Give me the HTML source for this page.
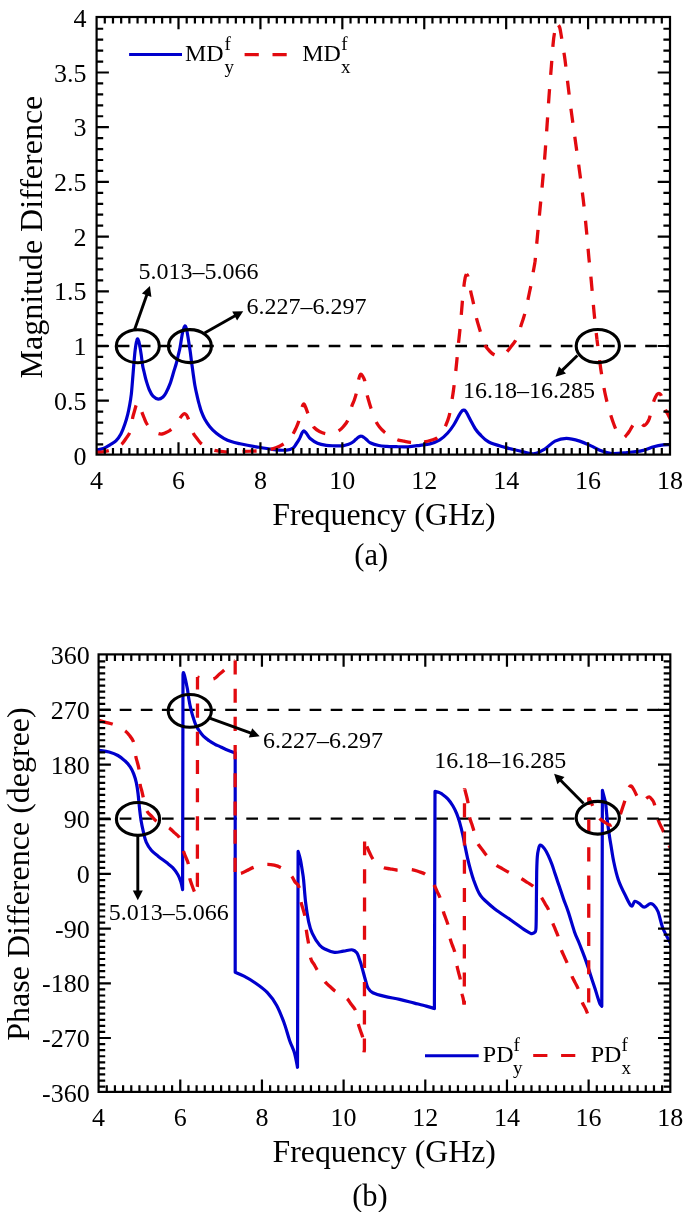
<!DOCTYPE html>
<html><head><meta charset="utf-8"><style>html,body{margin:0;padding:0;background:#fff;overflow:hidden}svg{display:block;filter:blur(0.5px)}</style></head>
<body>
<svg width="685" height="1212" viewBox="0 0 685 1212" font-family="Liberation Serif, serif" style="font-family:'Liberation Serif',serif"><rect width="685" height="1212" fill="#fff"/><line x1="96.6" y1="346.0" x2="670.0" y2="346.0" stroke="#000" stroke-width="2.3" stroke-dasharray="11.7 9.4"/><line x1="98.6" y1="709.8" x2="670.3" y2="709.8" stroke="#000" stroke-width="2.3" stroke-dasharray="11.7 9.4"/><line x1="98.6" y1="818.6" x2="670.3" y2="818.6" stroke="#000" stroke-width="2.3" stroke-dasharray="11.7 9.4"/><defs><clipPath id="ca"><rect x="96.6" y="17.0" width="573.4" height="437.6"/></clipPath><clipPath id="cb"><rect x="98.6" y="654.4" width="571.6999999999999" height="437.5000000000001"/></clipPath></defs><g clip-path="url(#ca)"><path d="M96.6,450.0 C97.7,449.8 101.1,449.5 103.3,448.6 C105.5,447.8 107.9,446.2 110.0,444.9 C112.1,443.6 114.1,442.7 115.9,440.9 C117.7,439.1 119.4,436.8 120.9,434.0 C122.4,431.2 123.8,427.3 124.9,424.0 C126.1,420.7 127.0,417.5 127.8,414.2 C128.6,410.9 129.2,407.6 129.8,404.3 C130.4,401.0 130.8,398.5 131.3,394.4 C131.8,390.3 132.2,384.4 132.6,379.5 C133.0,374.6 133.4,369.6 133.8,364.7 C134.2,359.8 134.7,353.8 135.2,349.8 C135.7,345.8 136.2,342.7 136.7,340.9 C137.1,339.1 137.4,338.5 137.9,339.2 C138.4,339.9 139.1,342.4 139.6,345.0 C140.1,347.6 140.7,351.3 141.2,354.8 C141.7,358.3 142.2,363.1 142.7,366.0 C143.2,368.9 143.6,369.9 144.2,372.5 C144.8,375.1 145.5,378.4 146.4,381.3 C147.3,384.2 148.3,387.5 149.4,390.0 C150.5,392.5 151.5,394.7 153.0,396.2 C154.5,397.7 156.5,399.1 158.2,399.2 C159.9,399.3 161.6,398.2 163.0,397.0 C164.4,395.8 165.3,394.0 166.5,391.8 C167.7,389.6 168.8,387.1 170.0,383.9 C171.2,380.7 172.5,375.9 173.5,372.5 C174.5,369.1 175.4,366.7 176.2,363.8 C177.0,360.9 177.7,357.7 178.3,355.0 C178.9,352.3 179.3,351.5 180.0,347.8 C180.7,344.1 181.7,336.6 182.5,333.0 C183.3,329.4 184.2,326.1 185.0,325.9 C185.8,325.7 186.3,328.0 187.1,332.0 C187.9,336.0 189.2,344.9 190.0,350.0 C190.8,355.1 191.0,358.3 191.6,362.4 C192.2,366.5 192.8,370.9 193.3,374.8 C193.9,378.7 194.3,382.1 194.9,385.5 C195.5,388.9 196.3,392.4 197.0,395.4 C197.7,398.4 198.2,400.9 199.0,403.6 C199.8,406.4 200.5,409.3 201.5,411.9 C202.5,414.5 203.4,416.8 204.8,419.3 C206.2,421.8 207.9,424.4 209.8,426.7 C211.7,429.0 214.1,431.4 216.4,433.3 C218.7,435.2 221.3,436.9 223.8,438.3 C226.3,439.7 228.5,440.7 231.2,441.6 C233.9,442.5 235.9,442.9 240.1,443.8 C244.3,444.7 250.8,445.9 256.2,446.8 C261.6,447.7 267.2,448.7 272.3,449.3 C277.4,449.9 283.2,450.4 286.7,450.2 C290.2,450.0 291.5,449.1 293.1,448.0 C294.7,446.9 295.4,445.1 296.5,443.5 C297.6,441.9 298.7,440.1 299.6,438.4 C300.5,436.6 301.3,434.3 302.0,433.0 C302.7,431.7 303.1,430.7 303.8,430.8 C304.6,430.9 305.4,432.2 306.5,433.5 C307.6,434.8 308.7,437.2 310.5,438.8 C312.3,440.4 314.9,442.1 317.5,443.2 C320.1,444.3 323.6,444.9 326.3,445.3 C329.1,445.7 331.2,445.7 334.0,445.8 C336.8,445.9 340.6,446.0 342.9,445.8 C345.2,445.6 346.4,445.1 348.0,444.5 C349.6,443.9 351.3,443.2 352.6,442.3 C353.9,441.4 355.0,440.2 356.0,439.3 C357.0,438.4 357.6,437.7 358.5,437.2 C359.4,436.7 360.3,436.1 361.2,436.2 C362.1,436.2 363.0,436.9 364.0,437.5 C365.0,438.1 366.0,439.1 367.0,440.0 C368.0,440.9 368.1,441.8 370.1,442.7 C372.1,443.6 376.0,444.9 378.8,445.5 C381.6,446.1 384.1,446.2 387.0,446.4 C389.9,446.6 392.9,446.6 396.4,446.7 C399.9,446.8 404.1,447.0 408.0,446.8 C411.9,446.6 416.4,445.8 420.0,445.3 C423.6,444.8 426.6,444.8 429.9,443.9 C433.2,443.0 436.8,441.7 439.8,439.9 C442.8,438.1 445.4,435.5 447.7,433.0 C450.0,430.5 451.9,427.8 453.7,425.0 C455.5,422.2 457.3,418.4 458.6,416.1 C459.9,413.9 460.7,412.5 461.5,411.5 C462.3,410.5 462.9,410.3 463.6,410.2 C464.3,410.1 464.9,410.3 465.5,411.0 C466.1,411.7 466.5,412.3 467.5,414.2 C468.5,416.1 470.2,419.6 471.5,422.1 C472.8,424.6 474.0,426.9 475.4,429.0 C476.8,431.1 477.8,432.3 480.0,434.5 C482.2,436.7 484.6,439.9 488.8,442.0 C493.0,444.1 499.7,445.8 505.1,447.4 C510.6,449.0 516.6,450.3 521.5,451.4 C526.4,452.4 530.4,454.1 534.3,453.7 C538.2,453.3 541.3,451.2 544.8,449.1 C548.2,447.0 551.4,442.9 555.0,441.1 C558.6,439.3 562.3,438.3 566.4,438.3 C570.5,438.3 575.6,439.8 579.7,441.1 C583.8,442.4 587.5,444.3 591.0,445.9 C594.5,447.5 597.0,449.3 600.5,450.6 C604.0,451.9 607.5,453.2 611.9,453.5 C616.3,453.8 622.0,453.0 627.1,452.5 C632.2,452.0 637.9,451.6 642.3,450.6 C646.7,449.7 650.2,447.8 653.7,446.8 C657.2,445.9 660.5,445.3 663.2,444.9 C665.9,444.5 668.9,444.7 670.0,444.6" stroke="#0000cd" stroke-width="3.2" fill="none" stroke-linejoin="round"/><path id="ar_0" class="dsh" d="M96.6,452.3 C97.7,452.2 100.8,452.1 103.0,451.8 C105.2,451.5 107.3,451.2 109.5,450.5 C111.7,449.8 113.9,448.6 116.0,447.5 C118.1,446.4 120.2,445.4 121.9,443.9 C123.6,442.4 124.7,440.4 126.0,438.5 C127.3,436.6 128.9,434.8 129.8,432.5 C130.7,430.2 131.0,427.6 131.5,425.0 C132.0,422.4 132.3,419.4 132.8,417.1 C133.3,414.8 133.9,413.0 134.5,411.0 C135.1,409.0 135.6,406.6 136.2,405.2 C136.8,403.8 137.4,402.4 138.0,402.5 C138.6,402.6 139.2,404.5 139.8,406.0 C140.4,407.5 140.9,409.5 141.6,411.4 C142.3,413.3 143.2,415.5 144.0,417.5 C144.8,419.5 145.6,421.8 146.6,423.5 C147.6,425.2 148.8,426.7 150.0,428.0 C151.2,429.3 152.7,430.6 154.0,431.5 C155.3,432.4 156.7,433.1 158.0,433.5 C159.3,433.9 160.7,434.2 162.0,434.0 C163.3,433.8 164.7,433.1 166.0,432.5 C167.3,431.9 168.3,431.4 169.6,430.6 C170.8,429.8 172.3,428.8 173.5,427.5 C174.7,426.2 176.0,424.4 177.0,423.0 C178.0,421.6 178.6,420.4 179.4,419.1 C180.2,417.9 181.2,416.4 182.0,415.5 C182.8,414.6 183.6,413.7 184.3,413.6 C185.1,413.5 185.8,414.2 186.5,415.0 C187.2,415.8 187.5,416.8 188.2,418.5 C188.9,420.2 189.7,422.6 190.5,425.0 C191.3,427.4 192.0,430.6 193.1,432.8 C194.2,435.1 195.7,436.8 197.0,438.5 C198.3,440.2 199.3,441.9 200.8,443.2 C202.3,444.5 204.3,445.6 205.8,446.5 C207.3,447.4 209.3,448.2 210.0,448.5" stroke="#e20a0f" stroke-width="3.3" fill="none" stroke-linejoin="round" stroke-dasharray="14.1 14.1" stroke-dashoffset="1.72"/><path id="ar_1" class="dsh" d="M210.0,448.5 C210.8,448.8 212.7,449.9 214.5,450.4 C216.3,450.9 218.7,451.0 221.0,451.3 C223.3,451.6 225.8,451.9 228.1,452.0 C230.4,452.1 232.6,451.9 235.0,451.8 C237.4,451.7 240.1,451.4 242.6,451.3 C245.1,451.2 247.7,451.2 250.0,451.2 C252.3,451.1 254.0,451.1 256.2,451.0 C258.4,450.9 260.7,450.7 263.0,450.5 C265.3,450.3 267.6,450.1 269.9,449.6 C272.1,449.1 274.2,448.4 276.5,447.5 C278.8,446.6 281.5,445.2 283.5,444.0 C285.5,442.8 286.9,441.6 288.5,440.0 C290.1,438.4 291.6,436.2 292.8,434.3 C294.0,432.4 294.8,430.7 295.8,428.5 C296.8,426.3 297.9,424.1 298.8,421.0 C299.7,417.9 300.4,412.8 301.2,410.0 C302.0,407.2 302.8,404.5 303.5,404.0 C304.2,403.5 304.8,405.4 305.5,407.0 C306.2,408.6 307.0,411.1 307.9,413.4 C308.8,415.7 310.0,418.7 311.0,421.0 C312.0,423.3 312.6,425.6 314.0,427.4 C315.4,429.1 317.6,430.5 319.5,431.5 C321.4,432.5 323.3,433.2 325.4,433.6 C327.5,434.0 329.8,434.4 332.0,434.0 C334.2,433.6 336.6,432.2 338.5,431.0 C340.4,429.8 341.9,428.4 343.5,426.5 C345.1,424.6 346.8,422.8 348.2,419.4 C349.6,416.0 350.7,409.6 351.7,406.4 C352.7,403.2 353.4,402.6 354.3,400.0 C355.2,397.4 356.2,394.3 356.9,391.0 C357.6,387.7 357.9,382.8 358.5,380.0 C359.1,377.2 359.7,375.2 360.4,374.5 C361.1,373.8 361.8,374.9 362.5,376.0 C363.2,377.1 364.1,378.2 364.8,381.0 C365.5,383.8 365.9,389.6 366.6,392.9 C367.3,396.2 368.1,398.4 368.8,401.0 C369.5,403.6 369.9,405.0 371.0,408.2 C372.1,411.4 373.9,417.1 375.3,420.2 C376.7,423.3 378.0,425.1 379.5,427.0 C381.0,428.9 382.4,430.3 384.1,431.8 C385.9,433.3 387.8,434.7 390.0,436.0 C392.2,437.3 394.9,438.8 397.2,439.7 C399.5,440.6 401.8,440.8 404.0,441.2 C406.2,441.6 408.2,442.1 410.4,442.3 C412.6,442.5 415.9,442.2 417.0,442.2" stroke="#e20a0f" stroke-width="3.3" fill="none" stroke-linejoin="round" stroke-dasharray="14.1 14.1" stroke-dashoffset="23.37"/><path id="ar_2" class="dsh" d="M417.0,442.2 C418.2,442.1 422.2,442.2 424.5,441.9 C426.8,441.6 428.9,441.0 431.0,440.3 C433.1,439.6 435.6,439.2 437.3,437.9 C439.1,436.6 440.1,434.6 441.5,432.5 C442.9,430.4 444.4,428.2 445.7,425.5 C446.9,422.8 448.0,420.2 449.0,416.5 C450.0,412.8 450.8,407.4 451.5,403.0 C452.2,398.6 452.9,394.7 453.5,390.0 C454.1,385.3 454.8,379.8 455.3,375.0 C455.9,370.2 456.3,366.0 456.8,361.0 C457.3,356.0 457.8,350.0 458.3,345.0 C458.8,340.0 459.3,335.8 459.8,331.0 C460.3,326.2 460.8,321.2 461.2,316.0 C461.6,310.8 462.1,304.8 462.5,300.0 C462.9,295.2 463.4,290.8 463.8,287.0 C464.2,283.2 464.8,279.7 465.2,277.5 C465.6,275.3 466.3,274.6 466.5,274.0" stroke="#e20a0f" stroke-width="3.3" fill="none" stroke-linejoin="round" stroke-dasharray="14.1 14.1" stroke-dashoffset="21.21"/><path id="ar_3" class="dsh" d="M466.5,274.0 C466.8,274.4 467.3,273.8 468.0,276.5 C468.7,279.2 469.6,285.9 470.5,290.4 C471.4,294.8 472.4,298.6 473.4,303.2 C474.4,307.8 475.3,313.3 476.4,317.8 C477.5,322.3 478.9,326.6 479.9,330.0 C480.9,333.4 481.6,335.9 482.5,338.5 C483.4,341.1 483.9,343.1 485.1,345.3 C486.4,347.5 488.5,349.9 490.0,351.5 C491.5,353.1 492.3,353.9 494.0,354.6 C495.7,355.4 498.2,356.2 500.0,356.0 C501.8,355.8 503.7,354.4 505.0,353.5 C506.3,352.6 506.9,351.8 508.0,350.5 C509.1,349.2 510.2,347.6 511.5,346.0 C512.8,344.4 514.3,342.6 515.5,340.6 C516.7,338.6 517.6,336.3 518.5,334.0 C519.4,331.7 519.9,329.3 520.7,326.6 C521.5,323.9 522.6,320.9 523.5,318.0 C524.4,315.1 525.2,312.5 526.0,309.0 C526.8,305.5 527.7,301.0 528.5,297.0 C529.3,293.0 530.2,289.0 531.0,285.0 C531.8,281.0 532.3,276.8 533.0,273.0 C533.7,269.2 534.7,263.8 535.0,262.0" stroke="#e20a0f" stroke-width="3.3" fill="none" stroke-linejoin="round" stroke-dasharray="14.1 14.1" stroke-dashoffset="10.99"/><path id="ar_4" class="dsh" d="M535.0,262.0 C535.4,257.9 536.4,246.7 537.3,237.7 C538.1,228.7 539.2,217.6 540.1,208.0 C541.0,198.4 541.9,189.5 542.7,180.3 C543.5,171.1 544.4,161.9 545.1,152.6 C545.8,143.3 546.5,133.9 547.1,124.6 C547.8,115.2 548.3,105.9 549.0,96.5 C549.7,87.1 550.5,77.0 551.2,68.4 C551.9,59.8 552.5,50.9 553.0,45.0 C553.5,39.1 553.8,36.6 554.5,33.0 C555.2,29.4 556.6,25.1 557.0,23.5" stroke="#e20a0f" stroke-width="3.3" fill="none" stroke-linejoin="round" stroke-dasharray="14.1 14.1" stroke-dashoffset="9.89"/><path id="ar_5" class="dsh" d="M557.0,23.5 C557.4,24.1 558.9,25.6 559.5,27.0 C560.1,28.4 560.0,28.5 560.6,31.8 C561.2,35.1 562.3,42.4 563.0,47.0 C563.7,51.6 564.1,53.0 565.0,59.7 C565.9,66.5 567.1,78.1 568.3,87.5 C569.4,96.9 570.6,106.4 571.9,115.9 C573.2,125.4 574.6,135.3 575.9,144.7 C577.2,154.1 578.5,163.2 579.7,172.4 C580.9,181.6 582.2,190.9 583.3,200.1 C584.4,209.3 585.4,219.5 586.2,227.8 C587.0,236.1 587.7,244.5 588.2,250.0 C588.7,255.5 588.7,256.2 589.2,260.9 C589.7,265.6 590.4,271.4 591.0,278.0 C591.6,284.6 592.4,293.8 593.0,300.7 C593.6,307.6 594.1,313.2 594.8,319.7 C595.5,326.2 596.6,336.4 597.0,339.7" stroke="#e20a0f" stroke-width="3.3" fill="none" stroke-linejoin="round" stroke-dasharray="14.1 14.1" stroke-dashoffset="25.95"/><path id="ar_6" class="dsh" d="M597.0,339.7 C597.3,342.1 598.2,349.1 598.8,354.0 C599.4,358.9 600.1,364.4 600.8,369.2 C601.5,373.9 602.2,378.1 603.0,382.5 C603.8,386.9 604.6,391.4 605.6,395.9 C606.6,400.4 607.7,405.0 609.0,409.5 C610.3,414.0 612.0,419.3 613.3,422.8 C614.5,426.3 615.3,428.2 616.5,430.5 C617.7,432.8 619.2,435.3 620.5,436.5 C621.8,437.7 623.0,437.8 624.0,437.5 C625.0,437.2 625.6,436.0 626.5,435.0 C627.4,434.0 628.2,433.0 629.2,431.5 C630.2,430.0 631.3,427.7 632.5,425.8 C633.7,423.9 635.2,420.6 636.5,420.0 C637.8,419.4 639.2,421.6 640.5,422.5 C641.8,423.4 642.9,425.4 644.0,425.5 C645.1,425.6 646.1,424.1 647.0,423.0 C647.9,421.9 648.5,420.7 649.3,418.6 C650.0,416.5 650.8,413.2 651.5,410.5 C652.2,407.8 652.7,404.8 653.4,402.5 C654.1,400.2 654.8,398.4 655.5,397.0 C656.2,395.6 656.9,394.2 657.8,393.8 C658.6,393.4 659.7,393.3 660.6,394.5 C661.5,395.7 662.2,398.5 663.0,401.0 C663.8,403.5 664.6,407.4 665.4,409.6 C666.2,411.8 667.2,412.8 668.0,414.4 C668.8,416.0 669.6,417.6 670.4,419.2 C671.2,420.8 672.6,423.2 673.0,424.0" stroke="#e20a0f" stroke-width="3.3" fill="none" stroke-linejoin="round" stroke-dasharray="14.1 14.1" stroke-dashoffset="7.59"/></g><g clip-path="url(#cb)"><path d="M98.6,750.3 C100.3,750.6 105.9,751.1 109.1,752.0 C112.3,752.9 115.3,754.0 117.9,755.5 C120.5,757.0 122.9,758.9 124.9,760.8 C127.0,762.7 128.7,764.7 130.2,766.9 C131.7,769.1 132.7,771.3 133.7,773.9 C134.7,776.5 135.6,779.5 136.3,782.7 C137.0,785.9 137.5,789.3 138.0,793.2 C138.5,797.1 138.8,801.7 139.3,806.3 C139.8,810.9 140.4,816.3 141.1,820.7 C141.8,825.1 142.8,829.3 143.6,832.9 C144.4,836.5 144.9,839.2 146.2,842.1 C147.5,845.0 149.3,847.9 151.3,850.3 C153.3,852.7 155.9,854.3 158.4,856.4 C160.9,858.5 164.2,860.7 166.6,862.6 C169.0,864.5 170.8,865.7 172.7,867.7 C174.6,869.7 176.5,872.4 177.9,874.8 C179.3,877.2 180.1,879.5 180.9,882.0 C181.7,884.5 182.3,888.3 182.6,889.6 L183.0,675.0 C183.1,674.6 183.2,672.4 183.5,672.6 C183.8,672.8 184.2,674.6 184.6,676.0 C185.0,677.4 185.4,679.3 185.8,681.0 C186.2,682.7 186.5,684.5 186.8,686.0 C187.1,687.5 187.3,687.9 187.6,690.0 C187.9,692.1 188.3,695.9 188.8,698.8 C189.3,701.7 189.8,704.6 190.5,707.5 C191.2,710.4 191.9,713.4 192.8,716.3 C193.7,719.2 194.7,722.6 195.8,725.0 C196.9,727.4 198.0,729.0 199.3,730.9 C200.6,732.8 201.8,734.5 203.4,736.1 C205.1,737.8 207.3,739.4 209.2,740.8 C211.1,742.2 213.2,743.3 215.0,744.3 C216.8,745.3 218.2,745.7 220.0,746.6 C221.8,747.5 223.8,748.6 226.0,749.5 C228.2,750.4 231.7,751.7 233.2,752.2 C234.7,752.8 234.9,752.7 235.2,752.8 L235.2,972.3 C236.7,972.9 240.6,974.4 244.0,976.2 C247.4,978.0 251.8,980.5 255.7,983.2 C259.6,985.9 263.9,988.9 267.4,992.6 C270.9,996.3 274.0,1000.5 276.7,1005.4 C279.4,1010.3 281.5,1016.0 283.7,1021.8 C285.9,1027.6 287.8,1035.2 289.6,1040.4 C291.4,1045.6 293.2,1048.5 294.5,1053.0 C295.8,1057.5 297.0,1064.9 297.5,1067.3 L298.1,851.4 C298.5,852.8 299.8,856.6 300.5,860.0 C301.2,863.4 302.0,868.7 302.5,872.0 C303.0,875.3 303.1,875.0 303.6,880.0 C304.1,885.0 304.8,895.4 305.6,902.3 C306.4,909.2 307.5,916.4 308.6,921.6 C309.7,926.8 310.5,929.5 312.3,933.4 C314.1,937.3 317.4,942.6 319.7,945.3 C322.0,948.0 323.5,948.3 326.0,949.5 C328.5,950.7 331.6,952.1 334.5,952.4 C337.4,952.7 340.4,951.6 343.4,951.2 C346.4,950.8 350.1,949.5 352.3,949.8 C354.5,950.0 355.7,951.3 356.8,952.7 C357.9,954.1 358.3,956.0 359.0,958.0 C359.7,960.0 360.4,962.1 361.2,964.6 C361.9,967.1 362.8,970.3 363.5,973.0 C364.2,975.7 364.9,978.4 365.7,980.9 C366.4,983.4 366.8,986.0 368.0,988.0 C369.2,990.0 370.0,991.3 372.8,992.7 C375.6,994.1 380.2,995.3 384.7,996.4 C389.2,997.5 394.7,998.3 399.6,999.4 C404.6,1000.5 409.9,1002.0 414.4,1003.1 C418.8,1004.2 423.0,1005.2 426.3,1006.1 C429.6,1007.0 433.0,1008.1 434.4,1008.5 L435.0,791.4 C435.6,791.5 437.4,791.9 438.5,792.3 C439.6,792.7 440.3,792.8 441.9,793.9 C443.4,795.0 446.0,796.9 447.8,798.9 C449.6,800.9 451.3,803.3 452.8,805.8 C454.3,808.3 455.6,810.9 456.7,813.7 C457.8,816.5 458.7,819.1 459.7,822.6 C460.7,826.1 461.8,830.5 462.7,834.5 C463.6,838.5 464.3,842.4 465.1,846.4 C465.9,850.4 466.7,854.3 467.6,858.3 C468.5,862.2 469.6,866.5 470.6,870.1 C471.6,873.7 472.5,876.7 473.6,880.0 C474.8,883.3 476.4,887.4 477.5,890.0 C478.6,892.6 479.3,893.8 480.5,895.5 C481.7,897.2 482.1,897.8 484.5,900.0 C486.9,902.2 490.4,905.6 494.8,909.0 C499.2,912.4 506.1,916.7 511.1,920.2 C516.1,923.7 521.6,928.0 525.0,930.2 C528.4,932.5 530.2,933.1 531.2,933.7 C531.8,933.5 533.7,933.5 534.5,932.5 C535.3,931.5 535.7,933.4 536.0,928.0 C536.3,922.6 536.3,909.4 536.4,900.0 C536.5,890.6 536.6,878.7 536.7,871.5 C536.9,864.3 537.0,860.5 537.3,856.9 C537.6,853.2 537.9,851.5 538.4,849.6 C538.9,847.7 539.2,845.3 540.2,845.2 C541.2,845.1 543.3,847.2 544.6,848.9 C545.9,850.6 547.0,852.8 548.2,855.4 C549.4,858.0 550.8,861.3 551.9,864.2 C553.0,867.1 553.8,870.1 554.8,873.0 C555.8,875.9 556.7,878.8 557.7,881.7 C558.7,884.6 559.7,887.6 560.7,890.5 C561.7,893.4 562.3,895.5 563.6,899.2 C564.9,902.9 566.7,907.0 568.5,912.5 C570.3,918.0 572.7,926.6 574.5,931.9 C576.3,937.1 577.9,939.9 579.5,944.0 C581.1,948.1 583.0,952.8 584.4,956.6 C585.8,960.4 586.8,963.3 588.0,967.0 C589.2,970.7 590.6,975.3 591.8,978.9 C593.0,982.5 594.0,985.5 595.0,988.5 C596.0,991.5 596.8,994.5 597.6,997.0 C598.4,999.5 599.1,1002.0 599.8,1003.5 C600.5,1005.0 601.5,1005.8 601.8,1006.3 L602.4,790.4 C602.7,791.6 603.8,795.5 604.3,797.7 C604.8,799.9 605.2,799.9 605.7,803.8 C606.2,807.7 606.8,816.2 607.4,821.3 C608.0,826.4 608.6,830.4 609.2,834.4 C609.8,838.4 610.1,840.4 610.9,845.0 C611.7,849.6 612.5,856.2 613.8,862.0 C615.0,867.8 616.5,874.4 618.4,880.0 C620.3,885.6 623.2,891.2 625.4,895.5 C627.5,899.8 629.7,905.0 631.3,906.0 C632.9,907.0 633.4,901.7 634.8,901.3 C636.2,900.9 637.9,902.7 639.5,903.7 C641.1,904.7 642.5,907.2 644.2,907.2 C646.0,907.2 648.5,904.1 650.0,903.7 C651.5,903.3 652.1,903.4 653.5,904.8 C654.9,906.1 656.6,907.9 658.1,911.8 C659.6,915.7 660.8,923.0 662.8,928.0 C664.8,933.0 668.3,939.0 669.8,942.0 C671.3,945.0 671.6,945.3 672.0,946.0" stroke="#0000cd" stroke-width="3.2" fill="none" stroke-linejoin="round"/><path id="br_0" class="dsh" d="M98.6,720.3 C99.8,720.6 103.3,721.7 105.6,722.3 C107.9,722.9 110.0,723.2 112.2,724.0 C114.4,724.8 116.8,725.8 119.0,727.0 C121.2,728.2 123.5,729.6 125.3,731.0 C127.0,732.4 128.2,733.8 129.5,735.5 C130.8,737.2 132.3,738.9 133.2,741.1 C134.1,743.3 134.4,746.0 134.8,748.5 C135.2,751.0 135.4,754.1 135.8,756.4 C136.2,758.7 136.9,760.5 137.4,762.5 C137.9,764.5 138.5,766.3 138.9,768.7 C139.3,771.1 139.5,774.3 139.7,777.0 C139.9,779.7 139.8,782.6 140.2,784.9 C140.5,787.2 141.3,788.8 141.8,790.8 C142.3,792.8 142.6,794.2 143.1,796.6 C143.6,799.0 144.3,802.5 145.0,805.0 C145.7,807.5 146.1,809.6 147.2,811.5 C148.3,813.4 150.1,814.6 151.5,816.1 C152.9,817.6 154.1,819.3 155.9,820.7 C157.7,822.1 160.2,823.2 162.5,824.5 C164.8,825.8 167.7,826.9 169.7,828.3 C171.7,829.7 173.0,831.4 174.6,832.9 C176.2,834.4 178.2,835.6 179.4,837.5 C180.6,839.4 181.1,841.7 181.8,844.0 C182.5,846.3 182.8,849.1 183.5,851.3 C184.2,853.5 185.0,855.2 185.8,857.2 C186.6,859.2 187.5,860.8 188.1,863.1 C188.7,865.4 188.9,868.4 189.2,871.0 C189.5,873.6 189.4,876.6 189.9,878.9 C190.4,881.2 191.2,883.0 191.9,885.0 C192.6,887.0 193.6,889.7 194.2,891.2 C194.8,892.7 195.4,893.5 195.7,894.0" stroke="#e20a0f" stroke-width="3.3" fill="none" stroke-linejoin="round" stroke-dasharray="14.1 14.1" stroke-dashoffset="27.64"/><path id="br_1" class="dsh" d="M195.7,894.0 L197.4,886.0 L197.5,677.0" stroke="#e20a0f" stroke-width="3.3" fill="none" stroke-linejoin="round" stroke-dasharray="14.1 14.1" stroke-dashoffset="20.89"/><path id="br_2" class="dsh" d="M197.5,677.0 C198.8,677.3 202.3,678.7 205.0,679.0 C207.7,679.3 211.3,679.6 213.6,678.9 C215.9,678.1 217.3,675.9 219.0,674.5 C220.7,673.1 221.3,672.7 224.0,670.3 C226.7,667.9 233.3,662.0 235.2,660.3" stroke="#e20a0f" stroke-width="3.3" fill="none" stroke-linejoin="round" stroke-dasharray="14.1 14.1" stroke-dashoffset="12.00"/><path id="br_3" class="dsh" d="M235.2,660.3 L235.1,873.0" stroke="#e20a0f" stroke-width="3.3" fill="none" stroke-linejoin="round" stroke-dasharray="14.1 14.1" stroke-dashoffset="28.05"/><path id="br_4" class="dsh" d="M235.1,873.0 C236.0,873.1 238.7,873.9 240.7,873.5 C242.7,873.1 244.9,871.5 247.0,870.5 C249.1,869.5 251.2,868.3 253.5,867.4 C255.8,866.5 258.1,865.5 260.5,865.0 C262.9,864.5 265.5,864.3 267.8,864.3 C270.1,864.3 272.1,864.7 274.2,865.2 C276.3,865.7 278.6,866.4 280.6,867.4 C282.7,868.4 284.6,869.5 286.5,871.0 C288.4,872.5 290.4,874.8 291.8,876.6 C293.2,878.4 293.8,880.3 295.0,882.0 C296.2,883.7 297.9,883.3 298.9,886.7 C299.9,890.1 300.4,898.6 301.1,902.3 C301.8,906.0 302.4,906.8 303.0,909.0 C303.6,911.2 304.4,913.4 304.8,915.6 C305.2,917.8 305.3,919.8 305.5,922.0 C305.7,924.2 305.9,926.6 306.2,929.0 C306.5,931.4 306.9,933.9 307.3,936.4 C307.7,938.9 308.0,940.1 308.6,943.8 C309.2,947.5 309.9,955.2 310.8,958.7 C311.7,962.2 313.1,962.6 314.2,964.6 C315.3,966.6 316.3,968.5 317.5,970.5 C318.7,972.5 320.1,974.5 321.5,976.5 C322.9,978.5 324.2,980.7 325.6,982.4 C327.0,984.1 328.5,985.1 330.0,986.5 C331.5,987.9 332.7,989.3 334.5,990.6 C336.3,991.9 338.9,993.1 341.0,994.5 C343.1,995.9 345.4,997.1 347.1,998.7 C348.8,1000.3 349.8,1002.4 351.2,1004.3 C352.6,1006.2 354.3,1007.8 355.3,1009.9 C356.3,1012.0 356.7,1014.6 357.2,1017.0 C357.7,1019.4 357.8,1021.7 358.3,1024.0 C358.9,1026.3 359.8,1028.5 360.5,1030.7 C361.2,1032.9 362.2,1034.9 362.7,1037.3 C363.2,1039.7 363.4,1042.5 363.6,1045.0 C363.8,1047.5 363.9,1051.0 364.0,1052.2" stroke="#e20a0f" stroke-width="3.3" fill="none" stroke-linejoin="round" stroke-dasharray="14.1 14.1" stroke-dashoffset="22.33"/><path id="br_5" class="dsh" d="M364.0,1052.2 L364.4,1050.0 L364.6,841.4" stroke="#e20a0f" stroke-width="3.3" fill="none" stroke-linejoin="round" stroke-dasharray="14.1 14.1" stroke-dashoffset="0.38"/><path id="br_6" class="dsh" d="M364.6,841.4 C365.0,842.2 365.9,844.2 366.7,846.1 C367.5,848.0 368.5,850.5 369.5,852.5 C370.5,854.5 371.2,856.5 372.5,858.4 C373.8,860.3 375.1,862.5 377.0,864.0 C378.9,865.5 381.4,866.9 383.6,867.7 C385.8,868.5 387.9,868.4 390.0,868.8 C392.1,869.2 394.2,869.8 396.5,870.0 C398.8,870.2 401.5,869.9 404.0,869.8 C406.5,869.7 409.2,869.2 411.6,869.5 C414.0,869.8 416.1,870.7 418.4,871.5 C420.6,872.3 423.2,872.9 425.1,874.1 C427.0,875.4 428.5,877.1 430.0,879.0 C431.5,880.9 433.0,883.4 434.2,885.4 C435.4,887.4 436.1,889.2 437.0,891.2 C437.9,893.2 439.0,894.9 439.8,897.1 C440.6,899.3 441.2,902.0 441.8,904.5 C442.4,907.0 442.9,909.7 443.5,912.0 C444.1,914.3 445.0,916.2 445.7,918.2 C446.4,920.2 447.2,922.1 447.8,924.3 C448.4,926.5 448.6,929.0 449.0,931.5 C449.4,934.0 449.7,936.9 450.3,939.2 C450.9,941.5 451.7,943.4 452.4,945.4 C453.1,947.4 454.0,949.2 454.6,951.5 C455.2,953.8 455.4,956.5 455.8,959.0 C456.2,961.5 456.6,964.1 457.1,966.4 C457.6,968.7 458.1,970.5 458.6,972.6 C459.1,974.7 459.8,976.5 460.2,978.8 C460.6,981.1 460.9,983.9 461.2,986.5 C461.5,989.1 461.8,992.1 462.1,994.2 C462.5,996.3 463.0,997.4 463.3,999.1 C463.6,1000.8 464.0,1003.6 464.1,1004.5" stroke="#e20a0f" stroke-width="3.3" fill="none" stroke-linejoin="round" stroke-dasharray="14.1 14.1" stroke-dashoffset="22.70"/><path id="br_7" class="dsh" d="M464.1,1004.5 L464.3,1003.0 L464.5,788.2" stroke="#e20a0f" stroke-width="3.3" fill="none" stroke-linejoin="round" stroke-dasharray="14.1 14.1" stroke-dashoffset="10.31"/><path id="br_8" class="dsh" d="M464.5,788.2 C464.8,789.2 465.4,791.8 466.0,794.0 C466.6,796.2 467.3,799.0 467.8,801.6 C468.3,804.2 468.5,806.9 468.8,809.5 C469.1,812.1 469.1,815.0 469.6,817.4 C470.1,819.8 471.0,821.7 471.7,823.8 C472.4,825.9 473.0,828.0 473.7,830.2 C474.4,832.4 475.1,834.8 475.8,837.0 C476.5,839.2 476.8,841.7 477.8,843.7 C478.8,845.7 480.5,847.4 481.9,849.2 C483.3,851.0 484.5,852.8 486.0,854.7 C487.5,856.6 489.2,858.7 491.0,860.5 C492.8,862.3 494.6,863.9 496.5,865.3 C498.4,866.7 500.6,867.6 502.6,868.8 C504.6,870.0 506.6,871.2 508.7,872.3 C510.8,873.4 512.9,874.4 515.0,875.5 C517.1,876.6 519.5,877.5 521.6,878.7 C523.7,879.9 525.5,881.2 527.4,882.5 C529.3,883.8 531.5,884.8 533.2,886.3 C534.9,887.8 536.1,889.6 537.5,891.5 C538.9,893.4 540.4,895.8 541.7,897.8 C543.0,899.8 544.0,901.7 545.1,903.7 C546.2,905.7 547.6,907.5 548.5,909.6 C549.4,911.7 550.0,914.2 550.7,916.5 C551.4,918.8 552.0,921.1 552.8,923.2 C553.6,925.4 554.5,927.3 555.3,929.4 C556.1,931.5 557.1,933.3 557.8,935.6 C558.5,937.9 559.0,940.5 559.6,943.0 C560.2,945.5 560.7,948.1 561.5,950.4 C562.3,952.7 563.4,954.5 564.3,956.6 C565.2,958.7 566.2,960.6 567.1,962.8 C568.0,964.9 568.8,967.2 569.6,969.5 C570.4,971.8 571.1,974.2 572.0,976.4 C572.9,978.6 574.1,980.5 575.1,982.6 C576.1,984.7 577.3,986.6 578.2,988.8 C579.1,991.0 579.8,993.6 580.5,996.0 C581.2,998.4 581.6,1000.9 582.5,1003.0 C583.4,1005.1 584.8,1007.1 585.6,1008.9 C586.4,1010.6 587.2,1012.7 587.5,1013.5" stroke="#e20a0f" stroke-width="3.3" fill="none" stroke-linejoin="round" stroke-dasharray="14.1 14.1" stroke-dashoffset="26.81"/><path id="br_9" class="dsh" d="M587.5,1013.5 L588.7,1008.0 L588.8,797.5" stroke="#e20a0f" stroke-width="3.3" fill="none" stroke-linejoin="round" stroke-dasharray="14.1 14.1" stroke-dashoffset="17.00"/><path id="br_10" class="dsh" d="M588.8,797.5 C589.1,798.1 589.9,799.7 590.5,801.0 C591.1,802.3 591.6,803.6 592.5,805.5 C593.4,807.4 594.8,810.4 596.0,812.5 C597.2,814.6 598.0,816.5 599.5,818.2 C601.0,819.9 603.2,821.3 605.0,822.5 C606.8,823.7 609.0,825.1 610.5,825.2 C612.0,825.3 612.8,824.0 614.0,823.0 C615.2,822.0 616.4,820.5 617.5,819.0 C618.6,817.5 619.4,816.6 620.5,813.8 C621.6,811.0 623.2,805.7 624.3,802.4 C625.4,799.1 626.2,796.5 627.0,794.0 C627.8,791.5 628.4,788.7 629.1,787.4 C629.8,786.1 630.5,785.6 631.3,786.0 C632.1,786.4 633.1,788.4 634.0,790.0 C634.9,791.6 636.0,794.2 636.8,795.8 C637.6,797.4 638.3,798.5 639.0,799.5 C639.7,800.5 640.5,801.7 641.2,802.0 C642.0,802.3 642.7,802.0 643.5,801.5 C644.3,801.0 644.9,799.5 645.9,798.7 C646.9,797.9 648.2,796.8 649.2,796.9 C650.2,797.0 651.1,798.4 652.0,799.5 C652.9,800.6 653.2,800.3 654.3,803.8 C655.4,807.3 656.9,816.1 658.4,820.6 C659.9,825.1 661.5,827.0 663.2,831.0 C664.9,835.0 667.3,841.6 668.8,844.9 C670.3,848.2 671.5,850.0 672.0,851.0" stroke="#e20a0f" stroke-width="3.3" fill="none" stroke-linejoin="round" stroke-dasharray="14.1 14.1" stroke-dashoffset="4.75"/></g><path d="M104.79,454.6v-6.6M104.79,17.0v6.6M112.98,454.6v-6.6M112.98,17.0v6.6M121.17,454.6v-6.6M121.17,17.0v6.6M129.37,454.6v-6.6M129.37,17.0v6.6M137.56,454.6v-6.6M137.56,17.0v6.6M145.75,454.6v-6.6M145.75,17.0v6.6M153.94,454.6v-6.6M153.94,17.0v6.6M162.13,454.6v-6.6M162.13,17.0v6.6M170.32,454.6v-6.6M170.32,17.0v6.6M178.51,454.6v-12.3M178.51,17.0v12.3M186.71,454.6v-6.6M186.71,17.0v6.6M194.90,454.6v-6.6M194.90,17.0v6.6M203.09,454.6v-6.6M203.09,17.0v6.6M211.28,454.6v-6.6M211.28,17.0v6.6M219.47,454.6v-6.6M219.47,17.0v6.6M227.66,454.6v-6.6M227.66,17.0v6.6M235.85,454.6v-6.6M235.85,17.0v6.6M244.05,454.6v-6.6M244.05,17.0v6.6M252.24,454.6v-6.6M252.24,17.0v6.6M260.43,454.6v-12.3M260.43,17.0v12.3M268.62,454.6v-6.6M268.62,17.0v6.6M276.81,454.6v-6.6M276.81,17.0v6.6M285.00,454.6v-6.6M285.00,17.0v6.6M293.19,454.6v-6.6M293.19,17.0v6.6M301.39,454.6v-6.6M301.39,17.0v6.6M309.58,454.6v-6.6M309.58,17.0v6.6M317.77,454.6v-6.6M317.77,17.0v6.6M325.96,454.6v-6.6M325.96,17.0v6.6M334.15,454.6v-6.6M334.15,17.0v6.6M342.34,454.6v-12.3M342.34,17.0v12.3M350.53,454.6v-6.6M350.53,17.0v6.6M358.73,454.6v-6.6M358.73,17.0v6.6M366.92,454.6v-6.6M366.92,17.0v6.6M375.11,454.6v-6.6M375.11,17.0v6.6M383.30,454.6v-6.6M383.30,17.0v6.6M391.49,454.6v-6.6M391.49,17.0v6.6M399.68,454.6v-6.6M399.68,17.0v6.6M407.87,454.6v-6.6M407.87,17.0v6.6M416.07,454.6v-6.6M416.07,17.0v6.6M424.26,454.6v-12.3M424.26,17.0v12.3M432.45,454.6v-6.6M432.45,17.0v6.6M440.64,454.6v-6.6M440.64,17.0v6.6M448.83,454.6v-6.6M448.83,17.0v6.6M457.02,454.6v-6.6M457.02,17.0v6.6M465.21,454.6v-6.6M465.21,17.0v6.6M473.41,454.6v-6.6M473.41,17.0v6.6M481.60,454.6v-6.6M481.60,17.0v6.6M489.79,454.6v-6.6M489.79,17.0v6.6M497.98,454.6v-6.6M497.98,17.0v6.6M506.17,454.6v-12.3M506.17,17.0v12.3M514.36,454.6v-6.6M514.36,17.0v6.6M522.55,454.6v-6.6M522.55,17.0v6.6M530.75,454.6v-6.6M530.75,17.0v6.6M538.94,454.6v-6.6M538.94,17.0v6.6M547.13,454.6v-6.6M547.13,17.0v6.6M555.32,454.6v-6.6M555.32,17.0v6.6M563.51,454.6v-6.6M563.51,17.0v6.6M571.70,454.6v-6.6M571.70,17.0v6.6M579.89,454.6v-6.6M579.89,17.0v6.6M588.09,454.6v-12.3M588.09,17.0v12.3M596.28,454.6v-6.6M596.28,17.0v6.6M604.47,454.6v-6.6M604.47,17.0v6.6M612.66,454.6v-6.6M612.66,17.0v6.6M620.85,454.6v-6.6M620.85,17.0v6.6M629.04,454.6v-6.6M629.04,17.0v6.6M637.23,454.6v-6.6M637.23,17.0v6.6M645.43,454.6v-6.6M645.43,17.0v6.6M653.62,454.6v-6.6M653.62,17.0v6.6M661.81,454.6v-6.6M661.81,17.0v6.6M96.6,444.46h6.6M670.0,444.46h-6.6M96.6,433.52h6.6M670.0,433.52h-6.6M96.6,422.58h6.6M670.0,422.58h-6.6M96.6,411.64h6.6M670.0,411.64h-6.6M96.6,400.70h12.3M670.0,400.70h-12.3M96.6,389.76h6.6M670.0,389.76h-6.6M96.6,378.82h6.6M670.0,378.82h-6.6M96.6,367.88h6.6M670.0,367.88h-6.6M96.6,356.94h6.6M670.0,356.94h-6.6M96.6,346.00h12.3M670.0,346.00h-12.3M96.6,335.06h6.6M670.0,335.06h-6.6M96.6,324.12h6.6M670.0,324.12h-6.6M96.6,313.18h6.6M670.0,313.18h-6.6M96.6,302.24h6.6M670.0,302.24h-6.6M96.6,291.30h12.3M670.0,291.30h-12.3M96.6,280.36h6.6M670.0,280.36h-6.6M96.6,269.42h6.6M670.0,269.42h-6.6M96.6,258.48h6.6M670.0,258.48h-6.6M96.6,247.54h6.6M670.0,247.54h-6.6M96.6,236.60h12.3M670.0,236.60h-12.3M96.6,225.66h6.6M670.0,225.66h-6.6M96.6,214.72h6.6M670.0,214.72h-6.6M96.6,203.78h6.6M670.0,203.78h-6.6M96.6,192.84h6.6M670.0,192.84h-6.6M96.6,181.90h12.3M670.0,181.90h-12.3M96.6,170.96h6.6M670.0,170.96h-6.6M96.6,160.02h6.6M670.0,160.02h-6.6M96.6,149.08h6.6M670.0,149.08h-6.6M96.6,138.14h6.6M670.0,138.14h-6.6M96.6,127.20h12.3M670.0,127.20h-12.3M96.6,116.26h6.6M670.0,116.26h-6.6M96.6,105.32h6.6M670.0,105.32h-6.6M96.6,94.38h6.6M670.0,94.38h-6.6M96.6,83.44h6.6M670.0,83.44h-6.6M96.6,72.50h12.3M670.0,72.50h-12.3M96.6,61.56h6.6M670.0,61.56h-6.6M96.6,50.62h6.6M670.0,50.62h-6.6M96.6,39.68h6.6M670.0,39.68h-6.6M96.6,28.74h6.6M670.0,28.74h-6.6" stroke="#000" stroke-width="2.2" fill="none"/><rect x="96.6" y="17.0" width="573.40" height="437.60" stroke="#000" stroke-width="2.2" fill="none"/><path d="M106.77,1091.9v-6.6M106.77,654.4v6.6M114.93,1091.9v-6.6M114.93,654.4v6.6M123.10,1091.9v-6.6M123.10,654.4v6.6M131.27,1091.9v-6.6M131.27,654.4v6.6M139.44,1091.9v-6.6M139.44,654.4v6.6M147.60,1091.9v-6.6M147.60,654.4v6.6M155.77,1091.9v-6.6M155.77,654.4v6.6M163.94,1091.9v-6.6M163.94,654.4v6.6M172.10,1091.9v-6.6M172.10,654.4v6.6M180.27,1091.9v-12.3M180.27,654.4v12.3M188.44,1091.9v-6.6M188.44,654.4v6.6M196.61,1091.9v-6.6M196.61,654.4v6.6M204.77,1091.9v-6.6M204.77,654.4v6.6M212.94,1091.9v-6.6M212.94,654.4v6.6M221.11,1091.9v-6.6M221.11,654.4v6.6M229.27,1091.9v-6.6M229.27,654.4v6.6M237.44,1091.9v-6.6M237.44,654.4v6.6M245.61,1091.9v-6.6M245.61,654.4v6.6M253.78,1091.9v-6.6M253.78,654.4v6.6M261.94,1091.9v-12.3M261.94,654.4v12.3M270.11,1091.9v-6.6M270.11,654.4v6.6M278.28,1091.9v-6.6M278.28,654.4v6.6M286.44,1091.9v-6.6M286.44,654.4v6.6M294.61,1091.9v-6.6M294.61,654.4v6.6M302.78,1091.9v-6.6M302.78,654.4v6.6M310.95,1091.9v-6.6M310.95,654.4v6.6M319.11,1091.9v-6.6M319.11,654.4v6.6M327.28,1091.9v-6.6M327.28,654.4v6.6M335.45,1091.9v-6.6M335.45,654.4v6.6M343.61,1091.9v-12.3M343.61,654.4v12.3M351.78,1091.9v-6.6M351.78,654.4v6.6M359.95,1091.9v-6.6M359.95,654.4v6.6M368.12,1091.9v-6.6M368.12,654.4v6.6M376.28,1091.9v-6.6M376.28,654.4v6.6M384.45,1091.9v-6.6M384.45,654.4v6.6M392.62,1091.9v-6.6M392.62,654.4v6.6M400.78,1091.9v-6.6M400.78,654.4v6.6M408.95,1091.9v-6.6M408.95,654.4v6.6M417.12,1091.9v-6.6M417.12,654.4v6.6M425.29,1091.9v-12.3M425.29,654.4v12.3M433.45,1091.9v-6.6M433.45,654.4v6.6M441.62,1091.9v-6.6M441.62,654.4v6.6M449.79,1091.9v-6.6M449.79,654.4v6.6M457.95,1091.9v-6.6M457.95,654.4v6.6M466.12,1091.9v-6.6M466.12,654.4v6.6M474.29,1091.9v-6.6M474.29,654.4v6.6M482.46,1091.9v-6.6M482.46,654.4v6.6M490.62,1091.9v-6.6M490.62,654.4v6.6M498.79,1091.9v-6.6M498.79,654.4v6.6M506.96,1091.9v-12.3M506.96,654.4v12.3M515.12,1091.9v-6.6M515.12,654.4v6.6M523.29,1091.9v-6.6M523.29,654.4v6.6M531.46,1091.9v-6.6M531.46,654.4v6.6M539.63,1091.9v-6.6M539.63,654.4v6.6M547.79,1091.9v-6.6M547.79,654.4v6.6M555.96,1091.9v-6.6M555.96,654.4v6.6M564.13,1091.9v-6.6M564.13,654.4v6.6M572.29,1091.9v-6.6M572.29,654.4v6.6M580.46,1091.9v-6.6M580.46,654.4v6.6M588.63,1091.9v-12.3M588.63,654.4v12.3M596.80,1091.9v-6.6M596.80,654.4v6.6M604.96,1091.9v-6.6M604.96,654.4v6.6M613.13,1091.9v-6.6M613.13,654.4v6.6M621.30,1091.9v-6.6M621.30,654.4v6.6M629.46,1091.9v-6.6M629.46,654.4v6.6M637.63,1091.9v-6.6M637.63,654.4v6.6M645.80,1091.9v-6.6M645.80,654.4v6.6M653.97,1091.9v-6.6M653.97,654.4v6.6M662.13,1091.9v-6.6M662.13,654.4v6.6M98.6,1086.62h6.6M670.3,1086.62h-6.6M98.6,1080.55h6.6M670.3,1080.55h-6.6M98.6,1074.47h6.6M670.3,1074.47h-6.6M98.6,1068.39h6.6M670.3,1068.39h-6.6M98.6,1062.32h6.6M670.3,1062.32h-6.6M98.6,1056.24h6.6M670.3,1056.24h-6.6M98.6,1050.17h6.6M670.3,1050.17h-6.6M98.6,1044.09h6.6M670.3,1044.09h-6.6M98.6,1038.01h12.3M670.3,1038.01h-12.3M98.6,1031.94h6.6M670.3,1031.94h-6.6M98.6,1025.86h6.6M670.3,1025.86h-6.6M98.6,1019.78h6.6M670.3,1019.78h-6.6M98.6,1013.71h6.6M670.3,1013.71h-6.6M98.6,1007.63h6.6M670.3,1007.63h-6.6M98.6,1001.55h6.6M670.3,1001.55h-6.6M98.6,995.48h6.6M670.3,995.48h-6.6M98.6,989.40h6.6M670.3,989.40h-6.6M98.6,983.33h12.3M670.3,983.33h-12.3M98.6,977.25h6.6M670.3,977.25h-6.6M98.6,971.17h6.6M670.3,971.17h-6.6M98.6,965.10h6.6M670.3,965.10h-6.6M98.6,959.02h6.6M670.3,959.02h-6.6M98.6,952.94h6.6M670.3,952.94h-6.6M98.6,946.87h6.6M670.3,946.87h-6.6M98.6,940.79h6.6M670.3,940.79h-6.6M98.6,934.71h6.6M670.3,934.71h-6.6M98.6,928.64h12.3M670.3,928.64h-12.3M98.6,922.56h6.6M670.3,922.56h-6.6M98.6,916.48h6.6M670.3,916.48h-6.6M98.6,910.41h6.6M670.3,910.41h-6.6M98.6,904.33h6.6M670.3,904.33h-6.6M98.6,898.26h6.6M670.3,898.26h-6.6M98.6,892.18h6.6M670.3,892.18h-6.6M98.6,886.10h6.6M670.3,886.10h-6.6M98.6,880.03h6.6M670.3,880.03h-6.6M98.6,873.95h12.3M670.3,873.95h-12.3M98.6,867.87h6.6M670.3,867.87h-6.6M98.6,861.80h6.6M670.3,861.80h-6.6M98.6,855.72h6.6M670.3,855.72h-6.6M98.6,849.64h6.6M670.3,849.64h-6.6M98.6,843.57h6.6M670.3,843.57h-6.6M98.6,837.49h6.6M670.3,837.49h-6.6M98.6,831.42h6.6M670.3,831.42h-6.6M98.6,825.34h6.6M670.3,825.34h-6.6M98.6,819.26h12.3M670.3,819.26h-12.3M98.6,813.19h6.6M670.3,813.19h-6.6M98.6,807.11h6.6M670.3,807.11h-6.6M98.6,801.03h6.6M670.3,801.03h-6.6M98.6,794.96h6.6M670.3,794.96h-6.6M98.6,788.88h6.6M670.3,788.88h-6.6M98.6,782.80h6.6M670.3,782.80h-6.6M98.6,776.73h6.6M670.3,776.73h-6.6M98.6,770.65h6.6M670.3,770.65h-6.6M98.6,764.57h12.3M670.3,764.57h-12.3M98.6,758.50h6.6M670.3,758.50h-6.6M98.6,752.42h6.6M670.3,752.42h-6.6M98.6,746.35h6.6M670.3,746.35h-6.6M98.6,740.27h6.6M670.3,740.27h-6.6M98.6,734.19h6.6M670.3,734.19h-6.6M98.6,728.12h6.6M670.3,728.12h-6.6M98.6,722.04h6.6M670.3,722.04h-6.6M98.6,715.96h6.6M670.3,715.96h-6.6M98.6,709.89h12.3M670.3,709.89h-12.3M98.6,703.81h6.6M670.3,703.81h-6.6M98.6,697.73h6.6M670.3,697.73h-6.6M98.6,691.66h6.6M670.3,691.66h-6.6M98.6,685.58h6.6M670.3,685.58h-6.6M98.6,679.51h6.6M670.3,679.51h-6.6M98.6,673.43h6.6M670.3,673.43h-6.6M98.6,667.35h6.6M670.3,667.35h-6.6M98.6,661.28h6.6M670.3,661.28h-6.6" stroke="#000" stroke-width="2.2" fill="none"/><rect x="98.6" y="654.4" width="571.70" height="437.50" stroke="#000" stroke-width="2.2" fill="none"/><g font-size="26"><text x="96.6" y="488.7" text-anchor="middle">4</text><text x="178.5" y="488.7" text-anchor="middle">6</text><text x="260.4" y="488.7" text-anchor="middle">8</text><text x="342.3" y="488.7" text-anchor="middle">10</text><text x="424.3" y="488.7" text-anchor="middle">12</text><text x="506.2" y="488.7" text-anchor="middle">14</text><text x="588.1" y="488.7" text-anchor="middle">16</text><text x="670.0" y="488.7" text-anchor="middle">18</text><text x="86.5" y="464.5" text-anchor="end">0</text><text x="86.5" y="409.8" text-anchor="end">0.5</text><text x="86.5" y="355.1" text-anchor="end">1</text><text x="86.5" y="300.4" text-anchor="end">1.5</text><text x="86.5" y="245.7" text-anchor="end">2</text><text x="86.5" y="191.0" text-anchor="end">2.5</text><text x="86.5" y="136.3" text-anchor="end">3</text><text x="86.5" y="81.6" text-anchor="end">3.5</text><text x="86.5" y="26.9" text-anchor="end">4</text></g><g font-size="26"><text x="98.6" y="1126.2" text-anchor="middle">4</text><text x="180.3" y="1126.2" text-anchor="middle">6</text><text x="261.9" y="1126.2" text-anchor="middle">8</text><text x="343.6" y="1126.2" text-anchor="middle">10</text><text x="425.3" y="1126.2" text-anchor="middle">12</text><text x="507.0" y="1126.2" text-anchor="middle">14</text><text x="588.6" y="1126.2" text-anchor="middle">16</text><text x="670.3" y="1126.2" text-anchor="middle">18</text><text x="89.7" y="1101.6" text-anchor="end">-360</text><text x="89.7" y="1046.9" text-anchor="end">-270</text><text x="89.7" y="992.2" text-anchor="end">-180</text><text x="89.7" y="937.5" text-anchor="end">-90</text><text x="89.7" y="882.9" text-anchor="end">0</text><text x="89.7" y="828.2" text-anchor="end">90</text><text x="89.7" y="773.5" text-anchor="end">180</text><text x="89.7" y="718.8" text-anchor="end">270</text><text x="89.7" y="664.1" text-anchor="end">360</text></g><text x="383.9" y="525.2" font-size="31.8" text-anchor="middle">Frequency (GHz)</text><text x="384.2" y="1161.9" font-size="31.8" text-anchor="middle">Frequency (GHz)</text><text transform="translate(41.6,237.1) rotate(-90)" font-size="32" text-anchor="middle">Magnitude Difference</text><text transform="translate(29.3,874) rotate(-90)" font-size="32" text-anchor="middle">Phase Difference (degree)</text><text x="371.3" y="564.5" font-size="30.5" text-anchor="middle">(a)</text><text x="370" y="1205.5" font-size="30.5" text-anchor="middle">(b)</text><line x1="129.1" y1="54.4" x2="182" y2="54.4" stroke="#0000cd" stroke-width="3"/><line x1="244.6" y1="54.6" x2="297.6" y2="54.6" stroke="#e20a0f" stroke-width="3.2" stroke-dasharray="14.2 13.7"/><g font-size="24"><text x="185" y="61.1">MD</text><text x="302.2" y="61.1">MD</text></g><g font-size="19"><text x="224.6" y="49.7">f</text><text x="224.4" y="72.8">y</text><text x="341.3" y="49.7">f</text><text x="341.0" y="72.6">x</text></g><line x1="425" y1="1055.7" x2="478.7" y2="1055.7" stroke="#0000cd" stroke-width="3"/><line x1="533.2" y1="1055.5" x2="586.2" y2="1055.5" stroke="#e20a0f" stroke-width="3.2" stroke-dasharray="14.2 13.7"/><g font-size="24"><text x="482.8" y="1062.4">PD</text><text x="590.7" y="1062.2">PD</text></g><g font-size="19"><text x="513.4" y="1051">f</text><text x="513" y="1073.7">y</text><text x="621.5" y="1050.5">f</text><text x="621.4" y="1073.6">x</text></g><ellipse cx="137.8" cy="346.2" rx="21.5" ry="16.5" stroke="#000" stroke-width="3.1" fill="none"/><ellipse cx="189.9" cy="346.15" rx="21.5" ry="16.5" stroke="#000" stroke-width="3.1" fill="none"/><ellipse cx="597.8" cy="346.05" rx="21.6" ry="16.6" stroke="#000" stroke-width="3.1" fill="none"/><line x1="134.6" y1="329.5" x2="147.3" y2="293.4" stroke="#000" stroke-width="2.9"/><polygon points="149.9,286.0 151.4,296.9 141.9,293.6" fill="#000"/><line x1="204.6" y1="332.9" x2="236.4" y2="315.0" stroke="#000" stroke-width="2.9"/><polygon points="243.2,311.2 237.1,320.4 232.2,311.6" fill="#000"/><line x1="577.4" y1="355.5" x2="561.1" y2="371.4" stroke="#000" stroke-width="2.9"/><polygon points="555.5,376.8 559.0,366.4 566.0,373.6" fill="#000"/><g font-size="24"><text x="138.4" y="278.5">5.013–5.066</text><text x="246.5" y="313.6">6.227–6.297</text><text x="463" y="397.7">16.18–16.285</text></g><ellipse cx="189.8" cy="710.85" rx="21.6" ry="16.4" stroke="#000" stroke-width="3.1" fill="none"/><ellipse cx="138" cy="818.95" rx="21.6" ry="16.4" stroke="#000" stroke-width="3.1" fill="none"/><ellipse cx="597.8" cy="817.75" rx="21.6" ry="16.4" stroke="#000" stroke-width="3.1" fill="none"/><line x1="210.3" y1="718.3" x2="252.4" y2="733.6" stroke="#000" stroke-width="2.9"/><polygon points="259.7,736.3 248.8,737.6 252.2,728.2" fill="#000"/><line x1="137.8" y1="836" x2="137.8" y2="892.5" stroke="#000" stroke-width="2.9"/><polygon points="137.8,900.3 132.8,890.5 142.8,890.5" fill="#000"/><line x1="583.6" y1="803.5" x2="559.6" y2="779.2" stroke="#000" stroke-width="2.9"/><polygon points="554.1,773.7 564.5,777.1 557.4,784.2" fill="#000"/><g font-size="24"><text x="263.1" y="747.6">6.227–6.297</text><text x="108.7" y="919.7">5.013–5.066</text><text x="434.3" y="767.9">16.18–16.285</text></g></svg>
</body></html>
